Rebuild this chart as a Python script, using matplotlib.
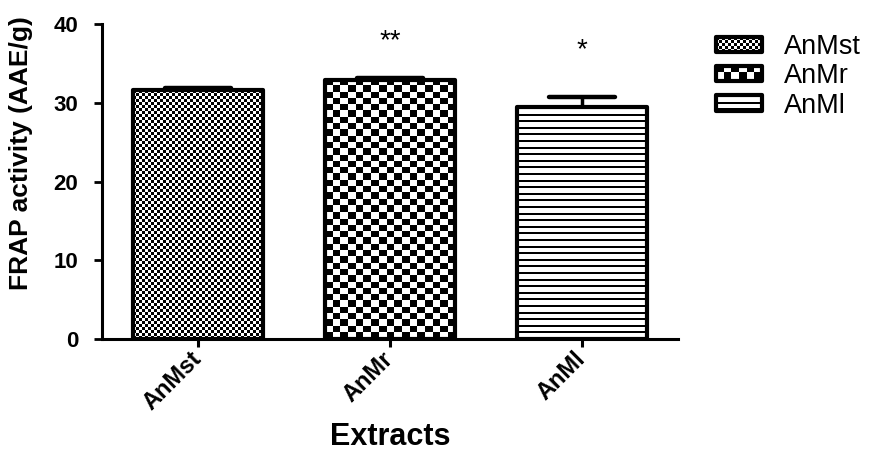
import numpy as np
import matplotlib
matplotlib.use("Agg")
import matplotlib.pyplot as plt
from matplotlib.patches import Rectangle
from matplotlib.legend_handler import HandlerBase

# ---- data ----
categories = ["AnMst", "AnMr", "AnMl"]
frap_mean = [31.6, 32.95, 29.4]
frap_sem = [0.3, 0.25, 1.3]
significance = ["", "**", "*"]
y_ticks = [0, 10, 20, 30, 40]

# ---- fill patterns (sizes in pixels) ----
patterns = {
    "AnMst": ("checker", 3.0, 3.0),
    "AnMr": ("checker", 7.7, 6.3),
    "AnMl": ("stripes", 6.6, 2.0),
}


def pattern_is_black(spec, px, py):
    kind, a, b = spec
    if kind == "checker":
        return ((np.floor(px / a).astype(int) + np.floor(py / b).astype(int)) % 2) == 0
    return (py % a) < b


plt.rcParams["font.family"] = ["Liberation Sans", "DejaVu Sans"]

fig = plt.figure(figsize=(8.72, 4.54), dpi=100)
ax = fig.add_axes([0.117, 0.2533, 0.6605, 0.6938])

x = np.arange(len(categories))
bar_width = 0.68
bars = ax.bar(x, frap_mean, width=bar_width, facecolor="none", edgecolor="black",
              linewidth=3.0, joinstyle="round", zorder=3)

ax.set_xlim(-0.5, len(categories) - 0.5)
ax.set_ylim(0, 40)

# pattern fill of every bar, rendered per pixel and clipped to the bar
for cat, rect in zip(categories, bars):
    x0, y0 = rect.get_x(), rect.get_y()
    x1, y1 = x0 + rect.get_width(), y0 + rect.get_height()
    (p0x, p0y), (p1x, p1y) = ax.transData.transform([(x0, y0), (x1, y1)])
    w_px = int(round(p1x - p0x))
    h_px = int(round(p1y - p0y))
    px, py = np.meshgrid(np.arange(w_px) + 0.5, np.arange(h_px) + 0.5)
    black = pattern_is_black(patterns[cat], px, py)
    img = np.where(black, 0.0, 1.0)
    im = ax.imshow(img, extent=(x0, x1, y0, y1), origin="upper", cmap="gray",
                   vmin=0, vmax=1, interpolation="nearest", aspect="auto", zorder=2)
    im.set_clip_path(rect)

ax.set_xlim(-0.5, len(categories) - 0.5)
ax.set_ylim(0, 40)

# upper error bars with caps
tops = np.array(frap_mean) + np.array(frap_sem)
ax.vlines(x, frap_mean, tops, color="black", linewidth=2.5, zorder=4)
ax.hlines(tops, x - bar_width / 4, x + bar_width / 4, color="black",
          linewidth=3.2, capstyle="round", zorder=4)

# significance marks
star_offset_pt = [0, 26, 34]
for xi, top, mark, off in zip(x, tops, significance, star_offset_pt):
    if mark:
        ax.annotate(mark, (xi, top), xytext=(0, off), textcoords="offset points",
                    ha="center", va="center", fontsize=20)

# axes styling
for side in ("top", "right"):
    ax.spines[side].set_visible(False)
for side in ("left", "bottom"):
    ax.spines[side].set_linewidth(2.2)
ax.set_yticks(y_ticks)
ax.set_xticks(x)
ax.set_xticklabels(categories, rotation=45, ha="right", va="center",
                   rotation_mode="anchor", fontsize=17, fontweight="bold")
ax.tick_params(axis="y", direction="out", length=6, width=2.0, labelsize=16, pad=11)
ax.tick_params(axis="x", direction="out", length=6, width=2.2, pad=6)
for lab in ax.get_yticklabels():
    lab.set_fontweight("bold")

ax.set_ylabel("FRAP activity (AAE/g)", fontsize=19, fontweight="bold")
ax.yaxis.set_label_coords(-0.12, 0.59)
ax.set_xlabel("Extracts", fontsize=22, fontweight="bold", va="top")
ax.xaxis.set_label_coords(0.5, -0.265)


# legend swatches drawn with the same patterns
class PatternHandler(HandlerBase):
    def __init__(self, spec):
        super().__init__()
        self.spec = spec

    def create_artists(self, legend, orig_handle, xdescent, ydescent,
                       width, height, fontsize, trans):
        s = legend.figure.dpi / 72.0
        x0, y0 = -xdescent, -ydescent
        arts = [Rectangle((x0, y0), width, height, facecolor="white",
                          edgecolor="none", transform=trans)]
        kind, a, b = self.spec
        w_px, h_px = width * s, height * s
        if kind == "checker":
            nx, ny = int(np.ceil(w_px / a)), int(np.ceil(h_px / b))
            for i in range(nx):
                for j in range(ny):
                    if (i + j) % 2 == 0:
                        cx, cy = i * a, j * b
                        cw, ch = min(a, w_px - cx), min(b, h_px - cy)
                        arts.append(Rectangle((x0 + cx / s, y0 + height - (cy + ch) / s),
                                              cw / s, ch / s, facecolor="black",
                                              edgecolor="none", transform=trans))
        else:
            yy = 0.0
            while yy < h_px:
                th = min(b, h_px - yy)
                arts.append(Rectangle((x0, y0 + height - (yy + th) / s), width, th / s,
                                      facecolor="black", edgecolor="none", transform=trans))
                yy += a
        arts.append(Rectangle((x0, y0), width, height, facecolor="none",
                              edgecolor="black", linewidth=3.0, joinstyle="round",
                              transform=trans))
        return arts


handles = [Rectangle((0, 0), 1, 1, label=c) for c in categories]
fig.legend(handles=handles, labels=categories,
           handler_map={h: PatternHandler(patterns[c]) for h, c in zip(handles, categories)},
           loc="upper left", bbox_to_anchor=(0.821, 0.925), frameon=False,
           borderpad=0.0, borderaxespad=0.0,
           fontsize=19.5, handlelength=1.7, handleheight=0.5, handletextpad=0.8,
           labelspacing=0.12)

fig.savefig("out.png", dpi=100)
